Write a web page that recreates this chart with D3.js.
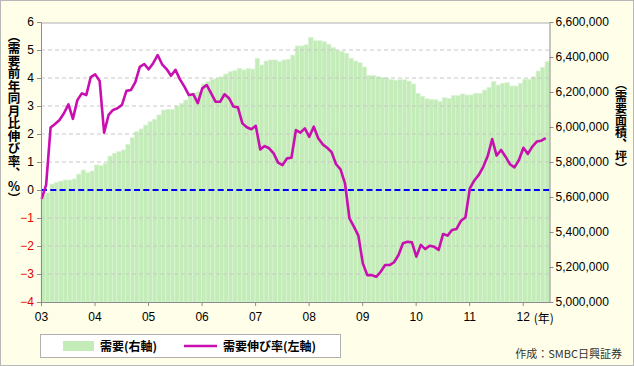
<!DOCTYPE html>
<html><head><meta charset="utf-8">
<script src="https://cdn.jsdelivr.net/npm/d3@7"></script>
<style>
body{margin:0;background:#fff;}
svg{display:block;font-family:"Liberation Sans",Arial,"Noto Sans CJK JP",sans-serif;}
</style>
</head><body>
<svg id="chart" width="634" height="366"></svg>
<script>
// ---- data ----
const yearLabels = ["03","04","05","06","07","08","09","10","11","12"];
// monthly demand (tsubo), 2003/01 - 2012/06  (right axis)
const demand = [
5611000,5623000,5674000,5684000,5691000,5697000,5697000,5703000,5731000,5754000,
5739000,5749000,5783000,5779000,5793000,5834000,5850000,5859000,5869000,5901000,
5939000,5973000,5989000,6011000,6030000,6044000,6069000,6097000,6101000,6101000,
6120000,6135000,6154000,6183000,6196000,6202000,6246000,6259000,6273000,6278000,
6287000,6303000,6316000,6322000,6335000,6326000,6335000,6331000,6393000,6354000,
6377000,6383000,6383000,6373000,6383000,6387000,6411000,6463000,6463000,6470000,
6513000,6493000,6493000,6487000,6473000,6454000,6438000,6432000,6421000,6393000,
6377000,6367000,6343000,6295000,6295000,6288000,6283000,6280000,6271000,6267000,
6270000,6270000,6262000,6246000,6193000,6176000,6161000,6158000,6156000,6146000,
6167000,6164000,6179000,6179000,6189000,6183000,6183000,6193000,6193000,6211000,
6227000,6259000,6240000,6250000,6253000,6234000,6234000,6250000,6273000,6273000,
6287000,6320000,6341000,6373000];
// year-on-year growth rate of demand, % (left axis)
const growth = [
-0.32,0.18,2.23,2.36,2.50,2.74,3.06,2.54,3.21,3.45,
3.39,4.03,4.13,3.89,2.05,2.68,2.86,2.92,3.04,3.54,
3.57,3.85,4.40,4.50,4.31,4.53,4.82,4.49,4.32,4.08,
4.29,3.95,3.69,3.39,3.42,3.10,3.63,3.75,3.45,3.15,
3.15,3.42,3.28,2.98,2.95,2.38,2.24,2.17,2.29,1.45,
1.57,1.49,1.31,0.98,0.89,1.13,1.15,2.14,2.05,2.20,
1.90,2.26,1.85,1.63,1.51,1.35,0.92,0.74,0.24,-1.01,
-1.31,-1.63,-2.62,-3.04,-3.04,-3.10,-2.92,-2.68,-2.68,-2.58,
-2.32,-1.90,-1.85,-1.87,-2.38,-1.96,-2.11,-1.99,-2.03,-2.14,
-1.57,-1.63,-1.43,-1.39,-1.10,-0.98,0.06,0.34,0.54,0.83,
1.21,1.82,1.23,1.43,1.19,0.92,0.81,1.07,1.51,1.29,
1.55,1.73,1.76,1.85];
const leftTicks = [-4,-3,-2,-1,0,1,2,3,4,5,6];
const rightTicks = [5000000,5200000,5400000,5600000,5800000,6000000,6200000,6400000,6600000];
const leftTitle = "（需要前年同月比伸び率、％）";
const rightTitle = "（需要面積、坪）";
const yearUnit = "(年)";
const legendBar = "需要(右軸)";
const legendLine = "需要伸び率(左軸)";
const sourceNote = "作成：SMBC日興証券";

// ---- layout ----
const W = 634, H = 366;
const L = 41, R = 549.5, T = 22, B = 302;
const svg = d3.select("#chart");

const x = d3.scaleLinear().domain([0, demand.length]).range([L, R]);
const yL = d3.scaleLinear().domain([-4, 6]).range([B, T]);
const yR = d3.scaleLinear().domain([5000000, 6600000]).range([B, T]);

// background
svg.append("rect").attr("x",0.5).attr("y",0.5).attr("width",W-1).attr("height",H-1)
  .attr("fill","#fffee8").attr("stroke","#b8b8b8");
svg.append("rect").attr("x",L).attr("y",T+1).attr("width",R-L).attr("height",B-T-1)
  .attr("fill","#ffffff");
svg.append("line").attr("x1",L).attr("x2",R).attr("y1",T+1).attr("y2",T+1)
  .attr("stroke","#b0b0b0");

// bars
svg.append("g").selectAll("rect").data(demand).join("rect")
  .attr("x",(d,i)=>x(i)).attr("width",(d,i)=>x(i+1)-x(i))
  .attr("y",d=>yR(d)).attr("height",d=>B-yR(d))
  .attr("fill","#c3ecb8").attr("stroke","#dbf4d4").attr("stroke-width",0.7);

// grid lines
svg.append("g").selectAll("line").data(leftTicks.filter(t=>t!==0 && t!==6 && t!==-4)).join("line")
  .attr("x1",L).attr("x2",R).attr("y1",d=>yL(d)).attr("y2",d=>yL(d))
  .attr("stroke","#c8c8c8").attr("stroke-dasharray","4,3");

// zero line
svg.append("line").attr("x1",L).attr("x2",R).attr("y1",yL(0)).attr("y2",yL(0))
  .attr("stroke","#0000ff").attr("stroke-width",2.2).attr("stroke-dasharray","6,3.3");

// growth line
svg.append("path").datum(growth)
  .attr("d", d3.line().x((d,i)=>x(i+0.15)).y(d=>yL(d)))
  .attr("fill","none").attr("stroke","#c80fb0").attr("stroke-width",2.6)
  .attr("stroke-linejoin","round");

// axes
function styleAxis(g){
  g.selectAll(".domain").attr("stroke","#8c8c8c");
  g.selectAll(".tick line").attr("stroke","#8c8c8c");
  g.selectAll("text").attr("font-size",12).attr("fill","#000")
    .attr("font-family",'"Liberation Sans",Arial,sans-serif');
}
const gL = svg.append("g").attr("transform",`translate(${L},0)`)
  .call(d3.axisLeft(yL).tickValues(leftTicks).tickSize(4).tickSizeOuter(0).tickPadding(3).tickFormat(d3.format("d")))
  .call(styleAxis);
gL.selectAll(".tick text").attr("fill",d=>d<0?"#e60000":"#000");

const gR = svg.append("g").attr("transform",`translate(${R},0)`)
  .call(d3.axisRight(yR).tickValues(rightTicks).tickSize(4).tickSizeOuter(0).tickPadding(2).tickFormat(d3.format(",")))
  .call(styleAxis);

const gB = svg.append("g").attr("transform",`translate(0,${B})`)
  .call(d3.axisBottom(x).tickValues(yearLabels.map((d,i)=>i*12)).tickSize(4).tickSizeOuter(0).tickPadding(6)
    .tickFormat((d,i)=>yearLabels[i]))
  .call(styleAxis);
gB.select(".domain").attr("stroke","#8c8c8c");

svg.append("text").attr("x",x(108)+11).attr("y",B+21).attr("font-size",12)
  .attr("font-family",'"Noto Sans CJK JP",sans-serif').text(yearUnit);

// axis titles (vertical)
svg.append("text").attr("x",14).attr("y",117).attr("text-anchor","middle")
  .style("writing-mode","vertical-rl").attr("font-size",12.5).attr("font-weight","bold")
  .attr("font-family",'"Noto Sans CJK JP",sans-serif').text(leftTitle);
svg.append("text").attr("x",621).attr("y",126).attr("text-anchor","middle")
  .style("writing-mode","vertical-rl").attr("font-size",12).attr("font-weight","bold")
  .attr("font-family",'"Noto Sans CJK JP",sans-serif').text(rightTitle);

// legend
const lg = svg.append("g");
lg.append("rect").attr("x",40.5).attr("y",334.5).attr("width",300).attr("height",23)
  .attr("fill","#fff").attr("stroke","#b0b0b0");
lg.append("rect").attr("x",63).attr("y",341).attr("width",31).attr("height",10).attr("fill","#c3ecb8");
lg.append("text").attr("x",100).attr("y",350.5).attr("font-size",12).attr("font-weight","bold")
  .attr("font-family",'"Noto Sans CJK JP",sans-serif').text(legendBar);
lg.append("line").attr("x1",184).attr("x2",217).attr("y1",346).attr("y2",346)
  .attr("stroke","#c80fb0").attr("stroke-width",2.6);
lg.append("text").attr("x",223).attr("y",350.5).attr("font-size",12).attr("font-weight","bold")
  .attr("font-family",'"Noto Sans CJK JP",sans-serif').text(legendLine);

// source
svg.append("text").attr("x",622).attr("y",358).attr("text-anchor","end").attr("font-size",11)
  .attr("fill","#333").attr("font-family",'"Noto Sans CJK JP",sans-serif').text(sourceNote);
</script>
</body></html>
